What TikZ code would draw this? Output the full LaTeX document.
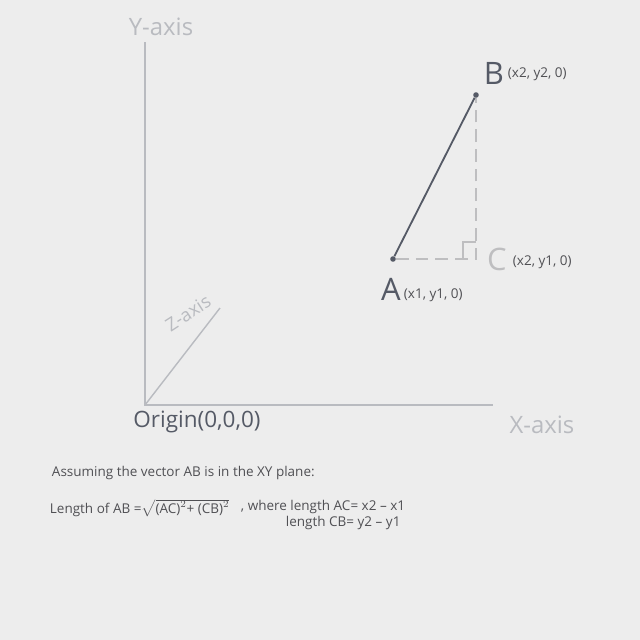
\documentclass[tikz,border=0pt]{standalone}
\usepackage{amsmath}
\usepackage{fontspec}
\setmainfont{Open Sans}
\definecolor{fond}{RGB}{237,237,237}
\definecolor{axe}{RGB}{185,187,192}
\definecolor{ardoise}{RGB}{85,90,102}
\definecolor{tiret}{RGB}{190,190,192}
\definecolor{texte}{RGB}{80,80,84}
\tikzset{
  main/.style={font=\fontsize{17}{17}\selectfont\color{axe}},
  etiq/.style={font=\fontsize{9.6}{11}\selectfont\color{texte}},
  lettre/.style={font=\fontsize{22}{22}\selectfont\color{ardoise}},
  point/.style={circle,fill=ardoise,inner sep=1.4pt}
}
\begin{document}
\begin{tikzpicture}[x=0.025cm,y=-0.025cm]
\fill [fond] (0,0) rectangle (640,640);
\useasboundingbox (0,0) rectangle (640,640);
% axes
\coordinate (O) at (145,405);
\coordinate (Yhaut) at (145,42);
\coordinate (Xfin) at (493,405);
\coordinate (Zfin) at (220,308);
\draw [axe, line width=1.2pt] (Yhaut) -- (O) -- (Xfin);
\draw [axe, line width=1pt] (O) -- (Zfin);
\node [main] (ylab) at (161,27) {Y-axis};
\node [main] (xlab) at (542,425) {X-axis};
\node [main, font=\fontsize{13}{13}\selectfont\color{axe}, rotate=33, inner sep=0pt] (zlab) at (188,313) {Z-axis};
\node [font=\fontsize{16}{16}\selectfont\color{ardoise}] (olab) at (197,422) {Origin(0,0,0)};
% triangle
\node [point] (A) at (393,259) {};
\node [point] (B) at (476,95) {};
\coordinate (C) at (476,259);
\draw [tiret, line width=1.2pt, dash pattern=on 9pt off 5pt] (A) -- (C) -- (B);
\draw [tiret, line width=1pt] (463,259) |- (476,242);
\draw [ardoise, line width=1.3pt] (A) -- (B);
\node [lettre] (Alet) at (391,289) {A};
\node [etiq, right] (Acoo) at (399,295) {(x1, y1, 0)};
\node [lettre] (Blet) at (494,73) {B};
\node [etiq, right] (Bcoo) at (503,74) {(x2, y2, 0)};
\node [lettre, color=tiret] (Clet) at (497,259) {C};
\node [etiq, right] (Ccoo) at (508,262) {(x2, y1, 0)};
% texte
\node [etiq, right] (hyp) at (47,473) {Assuming the vector AB is in the XY plane:};
\node [etiq, right] (long) at (45,508) {Length of AB =$\sqrt{\text{(AC)}^{2}\text{+ (CB)}^{2}}$};
\node [etiq, right] (ac) at (236,507) {, where length AC= x2 -- x1};
\node [etiq, right] (cb) at (281,523) {length CB= y2 -- y1};
\end{tikzpicture}
\end{document}
